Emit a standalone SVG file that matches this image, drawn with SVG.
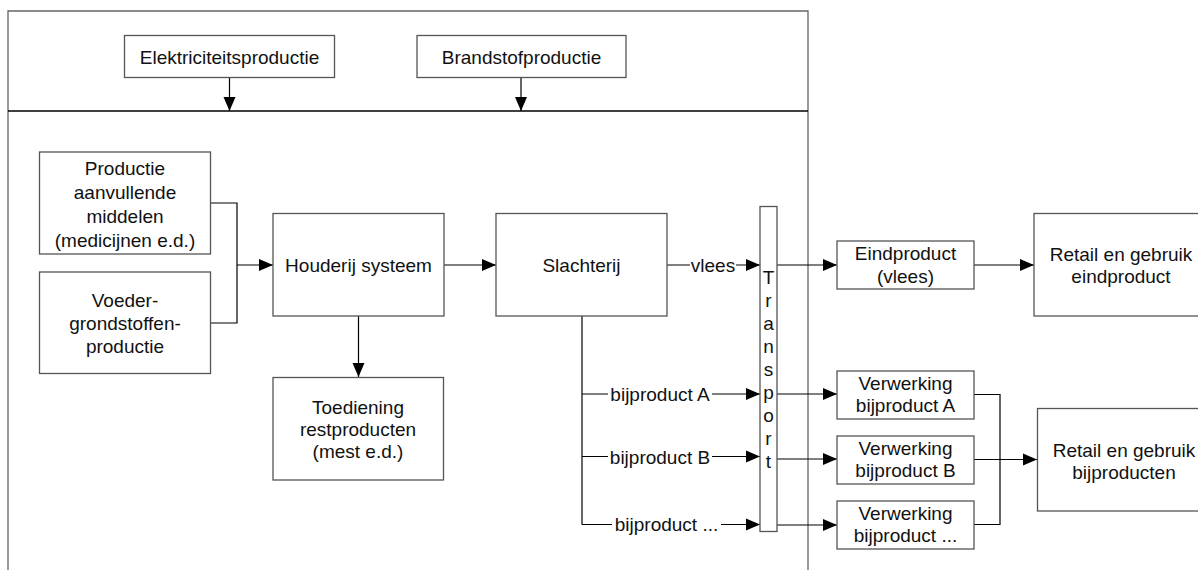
<svg xmlns="http://www.w3.org/2000/svg" width="1198" height="570" viewBox="0 0 1198 570">
<style>
.box{fill:#fff;stroke:#555;stroke-width:1.3}
.frame{fill:none;stroke:#666;stroke-width:1.3}
.div{fill:none;stroke:#000;stroke-width:1.5}
.c{fill:none;stroke:#000;stroke-width:1.2}
.ca{fill:none;stroke:#000;stroke-width:1.2;marker-end:url(#ah)}
text{font-family:"Liberation Sans",Arial,sans-serif;font-size:19px;fill:#111;text-anchor:middle}
.bg{fill:#fff;stroke:none}
</style>
<defs>
<marker id="ah" markerUnits="userSpaceOnUse" markerWidth="14" markerHeight="13" viewBox="0 0 14 13" refX="14" refY="6.5" orient="auto">
<path d="M0,0.5 L14,6.5 L0,12.5 z" fill="#000"/>
</marker>
</defs>
<rect width="1198" height="570" fill="#fff"/>
<g id="frame">
<path class="frame" d="M8,570 V11 H808 V570"/>
<path class="div" d="M8,111 H808"/>
</g>
<g id="connectors">
<path class="ca" d="M229.5,77 V111"/>
<path class="ca" d="M521,77 V111"/>
<path class="c" d="M211,203 H237 V323 H211"/>
<path class="ca" d="M237,265 H273"/>
<path class="ca" d="M444,265 H496"/>
<path class="ca" d="M358.5,316 V377"/>
<path class="ca" d="M667,265 H760"/>
<rect class="bg" x="690" y="254" width="46" height="20"/>
<text x="713" y="272">vlees</text>
<path class="c" d="M582,316 V524.5"/>
<path class="ca" d="M582,394 H760"/>
<rect class="bg" x="608" y="382" width="104" height="22"/>
<text x="660" y="401">bijproduct A</text>
<path class="ca" d="M582,456.5 H760"/>
<rect class="bg" x="608" y="445" width="104" height="22"/>
<text x="660" y="463.5">bijproduct B</text>
<path class="ca" d="M582,524.5 H760"/>
<rect class="bg" x="612" y="513" width="109" height="22"/>
<text x="666.5" y="531">bijproduct ...</text>
<path class="ca" d="M777,265 H837"/>
<path class="ca" d="M777,394 H837"/>
<path class="ca" d="M777,459 H837"/>
<path class="ca" d="M777,525 H837"/>
<path class="ca" d="M974,265 H1034"/>
<path class="c" d="M974,394.5 H1000 V524.5 H974"/>
<path class="ca" d="M974,459.5 H1037"/>
</g>
<g id="elektriciteit">
<rect class="box" x="124.5" y="35.5" width="210" height="42"/>
<text x="229.5" y="63.5">Elektriciteitsproductie</text>
</g>
<g id="brandstof">
<rect class="box" x="417" y="35.5" width="209" height="42"/>
<text x="521.5" y="63.5">Brandstofproductie</text>
</g>
<g id="productie">
<rect class="box" x="39.5" y="152" width="171" height="102"/>
<text x="125" y="175">Productie</text>
<text x="125" y="199">aanvullende</text>
<text x="125" y="223">middelen</text>
<text x="125" y="247">(medicijnen e.d.)</text>
</g>
<g id="voeder">
<rect class="box" x="39.5" y="272" width="171" height="101.5"/>
<text x="125" y="307">Voeder-</text>
<text x="125" y="330">grondstoffen-</text>
<text x="125" y="352.5">productie</text>
</g>
<g id="houderij">
<rect class="box" x="273" y="213.5" width="171" height="102.5"/>
<text x="358.5" y="272">Houderij systeem</text>
</g>
<g id="toediening">
<rect class="box" x="273" y="377.5" width="170.5" height="102.5"/>
<text x="358" y="413.5">Toediening</text>
<text x="358" y="435.5">restproducten</text>
<text x="358" y="457.5">(mest e.d.)</text>
</g>
<g id="slachterij">
<rect class="box" x="496" y="213.5" width="171" height="102.5"/>
<text x="581.5" y="272">Slachterij</text>
</g>
<g id="transport">
<rect class="box" x="760" y="206.5" width="17" height="325"/>
<text x="768.5" y="283.5">T</text>
<text x="768.5" y="306.5">r</text>
<text x="768.5" y="329.5">a</text>
<text x="768.5" y="352.5">n</text>
<text x="768.5" y="375.5">s</text>
<text x="768.5" y="398.5">p</text>
<text x="768.5" y="421.5">o</text>
<text x="768.5" y="444.5">r</text>
<text x="768.5" y="467.5">t</text>
</g>
<g id="eindproduct">
<rect class="box" x="837" y="241" width="137" height="48"/>
<text x="905.5" y="259.5">Eindproduct</text>
<text x="905.5" y="283">(vlees)</text>
</g>
<g id="retail-eind">
<rect class="box" x="1034" y="213.5" width="174" height="102.5"/>
<text x="1121" y="260.5">Retail en gebruik</text>
<text x="1121" y="283">eindproduct</text>
</g>
<g id="verwerking-a">
<rect class="box" x="837" y="371" width="137" height="48"/>
<text x="905.5" y="389.5">Verwerking</text>
<text x="905.5" y="412">bijproduct A</text>
</g>
<g id="verwerking-b">
<rect class="box" x="837" y="436" width="137" height="48"/>
<text x="905.5" y="454.5">Verwerking</text>
<text x="905.5" y="477">bijproduct B</text>
</g>
<g id="verwerking-x">
<rect class="box" x="837" y="501" width="137" height="48"/>
<text x="905.5" y="519.5">Verwerking</text>
<text x="905.5" y="542">bijproduct ...</text>
</g>
<g id="retail-bij">
<rect class="box" x="1037.5" y="408.5" width="174" height="102.5"/>
<text x="1124" y="457">Retail en gebruik</text>
<text x="1124" y="479">bijproducten</text>
</g>
</svg>
